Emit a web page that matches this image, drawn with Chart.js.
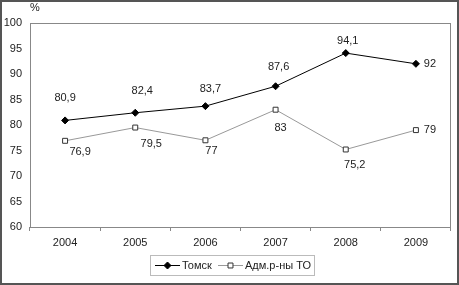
<!DOCTYPE html>
<html>
<head>
<meta charset="utf-8">
<script src="https://cdn.jsdelivr.net/npm/chart.js@4/dist/chart.umd.min.js"></script>
<style>
  html, body { margin: 0; padding: 0; background: #fff; }
  #wrap { width: 459px; height: 285px; }
</style>
</head>
<body>
<div id="wrap"><canvas id="chart" width="459" height="285"></canvas></div>
<script>
const years = ['2004', '2005', '2006', '2007', '2008', '2009'];
const tomsk = [80.9, 82.4, 83.7, 87.6, 94.1, 92];
const admTO = [76.9, 79.5, 77, 83, 75.2, 79];
const seriesNames = ['Томск', 'Адм.р-ны ТО'];
const yMin = 60;
const yMax = 100;
const yStep = 5;

// where each value label sits relative to its point (dx, dy)
const tomskLabelPos = [[0, -22], [7, -22], [5, -17], [3, -19], [2, -12], [14, 0]];
const admLabelPos = [[15, 11], [16, 16], [6, 11], [5, 18], [9, 15], [14, 0]];

const FONT = 'Liberation Sans, Arial, sans-serif';
const fmt = v => String(v).replace('.', ',');

const frame = {
  id: 'frame',
  beforeDraw(chart) {
    const { ctx, width, height } = chart;
    ctx.save();
    ctx.fillStyle = '#fff';
    ctx.fillRect(0, 0, width, height);
    ctx.strokeStyle = '#555';
    ctx.lineWidth = 2;
    ctx.strokeRect(1, 1, width - 2, height - 2);
    ctx.restore();
  },
  beforeDatasetsDraw(chart) {
    const { ctx, chartArea: a } = chart;
    ctx.save();
    ctx.strokeStyle = '#888';
    ctx.lineWidth = 1;
    ctx.strokeRect(a.left + 0.5, a.top + 0.5, a.right - a.left - 1, a.bottom - a.top);
    ctx.fillStyle = '#222';
    ctx.font = '11px ' + FONT;
    ctx.textAlign = 'left';
    ctx.textBaseline = 'middle';
    ctx.fillText('%', 30, 8);
    ctx.restore();
  }
};

const valueLabels = {
  id: 'valueLabels',
  afterDatasetsDraw(chart) {
    const { ctx } = chart;
    const offsets = [tomskLabelPos, admLabelPos];
    ctx.save();
    ctx.font = '11px ' + FONT;
    ctx.fillStyle = '#222';
    ctx.textAlign = 'center';
    ctx.textBaseline = 'middle';
    chart.data.datasets.forEach((ds, di) => {
      chart.getDatasetMeta(di).data.forEach((pt, i) => {
        const [dx, dy] = offsets[di][i];
        ctx.fillText(fmt(ds.data[i]), pt.x + dx, pt.y + dy);
      });
    });
    ctx.restore();
  }
};

const boxLegend = {
  id: 'boxLegend',
  afterDraw(chart) {
    const { ctx } = chart;
    const left = 150, top = 255, w = 164, h = 20;
    const cy = top + h / 2;
    ctx.save();
    ctx.strokeStyle = '#bbb';
    ctx.lineWidth = 1;
    ctx.strokeRect(left + 0.5, top + 0.5, w, h);
    ctx.font = '11px ' + FONT;
    ctx.textBaseline = 'middle';
    ctx.textAlign = 'left';
    const starts = [155, 218];
    chart.data.datasets.forEach((ds, di) => {
      const x0 = starts[di];
      ctx.strokeStyle = ds.borderColor;
      ctx.lineWidth = ds.borderWidth;
      ctx.beginPath();
      ctx.moveTo(x0, cy + 0.5);
      ctx.lineTo(x0 + 25, cy + 0.5);
      ctx.stroke();
      ctx.fillStyle = ds.pointBackgroundColor;
      ctx.strokeStyle = ds.pointBorderColor;
      Chart.helpers.drawPoint(ctx, {
        pointStyle: ds.pointStyle,
        radius: ds.pointRadius,
        borderWidth: 1,
        rotation: 0
      }, x0 + 12.5, cy + 0.5);
      ctx.fillStyle = '#222';
      ctx.fillText(ds.label, x0 + 27, cy + 1);
    });
    ctx.restore();
  }
};

new Chart(document.getElementById('chart'), {
  type: 'line',
  data: {
    labels: years,
    datasets: [
      {
        label: seriesNames[0],
        data: tomsk,
        borderColor: '#000',
        borderWidth: 1,
        pointStyle: 'rectRot',
        pointRadius: 3.5,
        pointBackgroundColor: '#000',
        pointBorderColor: '#000',
        pointBorderWidth: 1
      },
      {
        label: seriesNames[1],
        data: admTO,
        borderColor: '#999',
        borderWidth: 1,
        pointStyle: 'rect',
        pointRadius: 3.5,
        pointBackgroundColor: '#fff',
        pointBorderColor: '#333',
        pointBorderWidth: 1
      }
    ]
  },
  options: {
    responsive: false,
    animation: false,
    layout: { padding: { left: 0, top: 23, right: 8, bottom: 30 } },
    plugins: {
      legend: { display: false },
      tooltip: { enabled: false }
    },
    scales: {
      x: {
        offset: true,
        border: { display: false },
        grid: { display: true, offset: true, drawOnChartArea: false, drawTicks: true, tickLength: 4, color: '#888' },
        ticks: { color: '#222', font: { family: FONT, size: 11 }, padding: 5, maxRotation: 0 },
        afterFit(scale) { scale.height = 28; }
      },
      y: {
        min: yMin,
        max: yMax,
        border: { display: false },
        grid: { display: false, drawTicks: false },
        ticks: { stepSize: yStep, color: '#222', font: { family: FONT, size: 11 }, padding: 8 },
        afterFit(scale) { scale.width = 30; }
      }
    }
  },
  plugins: [frame, valueLabels, boxLegend]
});
</script>
</body>
</html>
